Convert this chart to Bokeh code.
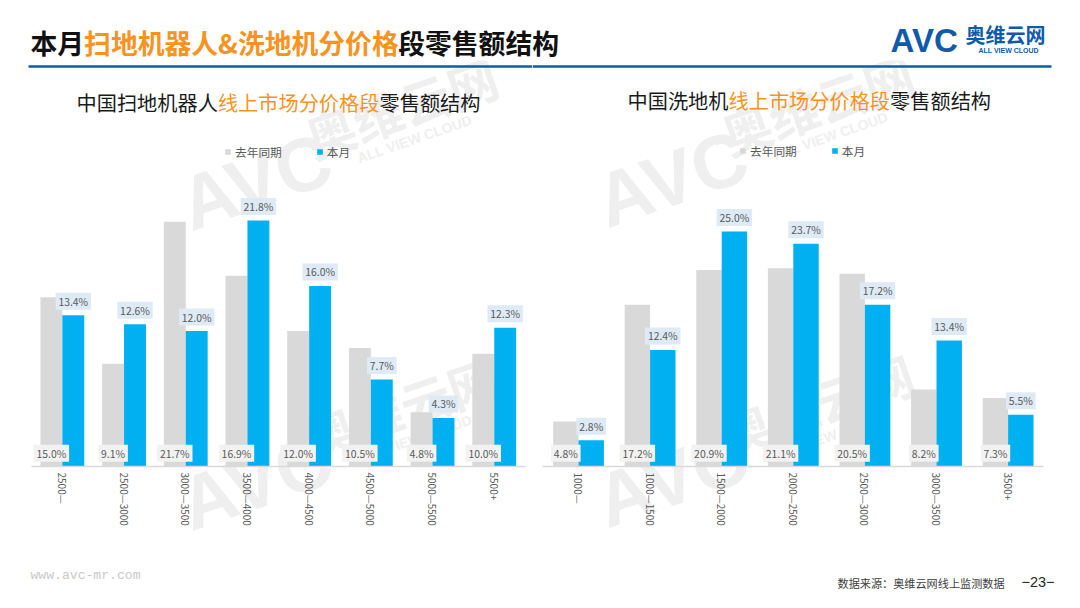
import math
from bokeh.plotting import figure
from bokeh.layouts import column, row
from bokeh.core.properties import value
from bokeh.models import Label, Range1d, ColumnDataSource, Legend, LegendItem, Arrow, FixedTicker
from bokeh.embed import file_html
from bokeh.resources import INLINE

robot_cats = ["2500—", "2500—3000", "3000—3500", "3500—4000", "4000—4500", "4500—5000", "5000—5500", "5500+"]
robot_last = [15.0, 9.1, 21.7, 16.9, 12.0, 10.5, 4.8, 10.0]
robot_now = [13.4, 12.6, 12.0, 21.8, 16.0, 7.7, 4.3, 12.3]
wash_cats = ["1000—", "1000—1500", "1500—2000", "2000—2500", "2500—3000", "3000—3500", "3500+"]
wash_last = [4.8, 17.2, 20.9, 21.1, 20.5, 8.2, 7.3]
wash_now = [2.8, 12.4, 25.0, 23.7, 17.2, 13.4, 5.5]

CJK = "Noto Sans CJK SC"
MONO = "Liberation Mono"
GREY = "#D9D9D9"
BLUE = "#00B0F0"
ORANGE = "#F7931E"
TEXT = "#595959"
WM = "#EFEFEF"
NAVY = "#0F5BAA"
TOP = 60
BOTTOM = 592


def put(p, x, y, text, size, color, font=CJK, style="normal", angle=0.0, level="annotation", align="left"):
    p.add_layout(Label(x=x, y=y, x_range_name="px", y_range_name="px", text=text,
                       text_font=font, text_font_size=f"{size}px", text_color=color,
                       text_font_style=style, text_baseline="middle", text_align=align,
                       angle=angle, level=level))


def watermark(p, ax, ay):
    a = math.radians(19)
    put(p, ax, ay, "AVC", 76, WM, "Liberation Sans", "bold", a, "underlay")
    put(p, ax + 118, ay - 63, "●", 15, WM, "Liberation Sans", "bold", a, "underlay", "center")
    put(p, ax + 124, ay - 68, "奥维云网", 50, WM, CJK, "bold", a, "underlay")
    put(p, ax + 175, ay - 48, "ALL VIEW CLOUD", 14, WM, "Liberation Sans", "bold", a, "underlay")


def rule(p, x0, x1):
    p.add_layout(Arrow(end=None, x_start=x0, y_start=66, x_end=x1, y_end=66, x_range_name="px", y_range_name="px",
                       line_color=NAVY, line_width=2.5))


def panel(cats, last, now, x0, x1, base, unit, cl, cr, title_x, title_y, legend_x, legend_y, title_parts):
    n = len(cats)
    step = (x1 - x0) / n
    p = figure(width=cr - cl, height=BOTTOM - TOP, output_backend="svg", toolbar_location=None,
               x_range=Range1d((cl - x0) / step, (cr - x0) / step),
               y_range=Range1d((base - BOTTOM) / unit, (base - TOP) / unit),
               y_axis_location=None, min_border=0, outline_line_color=None,
               background_fill_color="white", border_fill_color="white")
    p.extra_x_ranges["px"] = Range1d(cl, cr)
    p.extra_y_ranges["px"] = Range1d(BOTTOM, TOP)
    p.xgrid.visible = False
    p.ygrid.visible = False
    centers = [i + 0.5 for i in range(n)]
    ax = p.xaxis[0]
    ax.fixed_location = 0
    ax.bounds = (0, n)
    ax.ticker = FixedTicker(ticks=centers)
    ax.major_label_overrides = {c: t for c, t in zip(centers, cats)}
    ax.major_tick_line_color = None
    ax.minor_tick_line_color = None
    ax.axis_line_color = GREY
    ax.axis_line_width = 1.5
    ax.major_label_orientation = -math.pi / 2
    ax.major_label_text_font = CJK
    ax.major_label_text_font_size = "10px"
    ax.major_label_text_color = TEXT
    ax.major_label_standoff = 0

    w = 0.355
    src = ColumnDataSource(dict(
        xl=[c - w / 2 for c in centers], xn=[c + w / 2 for c in centers], last=last, now=now,
        last_text=[f"{v:.1f}%" for v in last], now_text=[f"{v:.1f}%" for v in now],
        last_w=[5.8 * len(f"{v:.1f}%") + 6.4 for v in last], now_w=[5.8 * len(f"{v:.1f}%") + 6.4 for v in now],
        last_y=[13.3 / unit for v in last], now_y=[v + 14 / unit for v in now],
    ))
    r1 = p.vbar(x="xl", top="last", width=w, bottom=0, source=src, fill_color=GREY, line_color=None)
    r2 = p.vbar(x="xn", top="now", width=w, bottom=0, source=src, fill_color=BLUE, line_color=None)
    p.rect(x="xl", y="last_y", width="last_w", height=17, width_units="screen", height_units="screen",
           source=src, fill_color="#F2F2F2", line_color=None)
    p.rect(x="xn", y="now_y", width="now_w", height=17, width_units="screen", height_units="screen",
           source=src, fill_color="#DEEAF6", line_color=None)
    for col, field in (("xl", "last"), ("xn", "now")):
        p.text(x=col, y=f"{field}_y", text=f"{field}_text", source=src, text_font=value(CJK), text_font_size="10.4px",
               text_color=TEXT, text_align="center", text_baseline="middle")

    legend = Legend(items=[LegendItem(label="去年同期", renderers=[r1]), LegendItem(label="本月", renderers=[r2])],
                    orientation="horizontal", location=(legend_x - cl, BOTTOM - legend_y - 8),
                    glyph_width=7, glyph_height=7, label_standoff=4, spacing=34, padding=0, margin=0,
                    border_line_color=None, background_fill_alpha=0,
                    label_text_font=CJK, label_text_font_size="11.7px", label_text_color=TEXT,
                    label_height=16, label_text_baseline="middle")
    p.add_layout(legend)

    x = title_x
    for text, color, em in title_parts:
        put(p, x, title_y, text, 20.2, color)
        x += em * 20.2
    return p


left = panel(robot_cats, robot_last, robot_now, 31, 524.6, 466, 246 / 21.8, 0, 532, 76, 102, 224, 152,
             [("中国扫地机器人", "#1A1A1A", 7), ("线上市场分价格段", ORANGE, 8), ("零售额结构", "#1A1A1A", 5)])
right = panel(wash_cats, wash_last, wash_now, 542.2, 1043.4, 466, 235 / 25.0, 532, 1064, 627, 100, 739, 151,
              [("中国洗地机", "#1A1A1A", 5), ("线上市场分价格段", ORANGE, 8), ("零售额结构", "#1A1A1A", 5)])

watermark(left, 182, 206)
watermark(left, 182, 506)
watermark(right, 598, 203)
watermark(right, 598, 503)

rule(left, 28, 532)
rule(right, 532, 1051)

put(left, 30, 575, "www.avc-mr.com", 13.1, "#C9C9C9", MONO)
put(right, 837, 582, "数据来源：奥维云网线上监测数据", 11.15, "#404040")
put(right, 1021, 581, "−23−", 14.5, "#262626", "Liberation Sans")

# header strip
head = figure(width=1064, height=TOP, output_backend="svg", toolbar_location=None,
              x_range=Range1d(0, 1064), y_range=Range1d(TOP, 0), x_axis_location=None, y_axis_location=None,
              min_border=0, outline_line_color=None, background_fill_color="white", border_fill_color="white")
head.xgrid.visible = False
head.ygrid.visible = False
head.extra_x_ranges["px"] = Range1d(0, 1064)
head.extra_y_ranges["px"] = Range1d(TOP, 0)
s = 26.8
parts = [("本月", "#111111", 2), ("扫地机器人&洗地机分价格", ORANGE, 11.72), ("段零售额结构", "#111111", 6)]
x = 30
for text, color, em in parts:
    put(head, x, 42, text, s, color, CJK, "bold")
    x += em * s
put(head, 890, 40, "AVC", 33, NAVY, "Liberation Sans", "bold")
put(head, 965, 34, "奥维云网", 20, NAVY, CJK, "bold")
put(head, 978, 50, "ALL VIEW CLOUD", 7, NAVY, "Liberation Sans", "bold")
head.scatter([954], [33], size=4, color=ORANGE, line_color=None)

page = column(head, row(left, right, spacing=0), spacing=0)
open("out.html", "w").write(file_html(page, INLINE))
